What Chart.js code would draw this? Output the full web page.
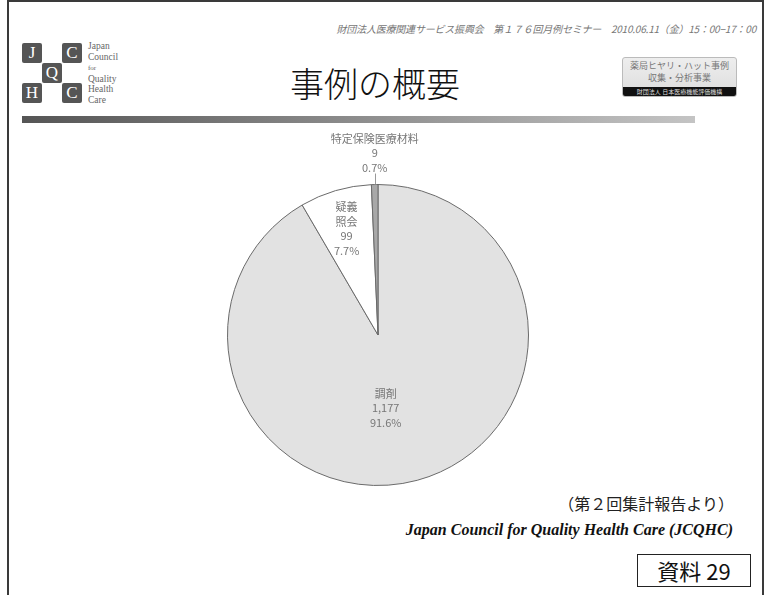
<!DOCTYPE html>
<html lang="ja">
<head>
<meta charset="utf-8">
<script src="https://cdn.jsdelivr.net/npm/chart.js@4"></script>
<style>
  body { margin: 0; width: 766px; height: 595px; background: #fff; overflow: hidden; position: relative;
         font-family: "Noto Sans CJK JP", "Noto Sans", sans-serif; }
  .frame { position: absolute; left: 7px; top: 0; width: 753px; height: 620px; border: 2px solid #3a3a3a; border-bottom: none; }
  .seminar { position: absolute; right: 10px; top: 21px; font-size: 10px; font-style: italic; color: #777; white-space: nowrap; letter-spacing: -0.2px; }
  .box { position: absolute; width: 20px; height: 20px; background: #555; color: #fff; border-radius: 2px;
         font-family: "Liberation Serif", serif; font-size: 17px; line-height: 20px; text-align: center; }
  .logotext { position: absolute; left: 88px; top: 41px; font-family: "Liberation Serif", serif; font-size: 9.5px; line-height: 10.5px; color: #666; }
  .title { position: absolute; left: 0; width: 750px; top: 58px; text-align: center; font-size: 34px; font-weight: 300; color: #111; }
  .badge { position: absolute; left: 622px; top: 57px; width: 113px; height: 38px; background: linear-gradient(#eee, #dcdcdc); border: 1px solid #bbb; border-radius: 3px; overflow: hidden; }
  .badge .l { font-size: 9px; line-height: 12px; text-align: center; color: #777; }
  .badge .strip { position: absolute; left: 0; bottom: 0; width: 100%; height: 9px; background: #111; color: #ddd; font-size: 6px; line-height: 9px; text-align: center; white-space: nowrap; }
  .bar { position: absolute; left: 22px; top: 116px; width: 673px; height: 7px; background: linear-gradient(to right, #555, #c4c4c4); }
  #chartWrap { position: absolute; left: 178px; top: 130px; width: 400px; height: 360px; }
  .source { position: absolute; right: 32px; top: 491px; font-size: 16px; color: #222; }
  .org { position: absolute; right: 33px; top: 521px; font-family: "Liberation Serif", serif; font-weight: bold; font-style: italic; font-size: 16px; color: #111; }
  .doc { position: absolute; left: 637px; top: 554px; width: 112px; height: 31px; border: 1px solid #222; font-size: 22px; line-height: 31px; text-align: center; color: #111; }
</style>
</head>
<body>
<div class="frame"></div>
<div class="seminar">財団法人医療関連サービス振興会　第１７６回月例セミナー　2010.06.11（金）15：00−17：00</div>

<div class="box" style="left:22px;top:43px">J</div>
<div class="box" style="left:62px;top:43px">C</div>
<div class="box" style="left:42px;top:63px">Q</div>
<div class="box" style="left:22px;top:83px">H</div>
<div class="box" style="left:62px;top:83px">C</div>
<div class="logotext">Japan<br>Council<br><span style="font-size:7px">for</span><br>Quality<br>Health<br>Care</div>

<div class="title">事例の概要</div>
<div class="badge">
  <div class="l" style="margin-top:2px">薬局ヒヤリ・ハット事例</div>
  <div class="l">収集・分析事業</div>
  <div class="strip">財団法人 日本医療機能評価機構</div>
</div>
<div class="bar"></div>

<div id="chartWrap"><canvas id="pieChart" width="400" height="360"></canvas></div>

<div class="source">（第２回集計報告より）</div>
<div class="org">Japan Council for Quality Health Care (JCQHC)</div>
<div class="doc">資料 29</div>

<script>
// data
const categories = ['調剤', '疑義照会', '特定保険医療材料'];
const labelLines = [['調剤'], ['疑義', '照会'], ['特定保険医療材料']];
const counts = [1177, 99, 9];
const sliceColors = ['#e2e2e2', '#ffffff', '#a8a8a8'];

const total = counts.reduce((a, b) => a + b, 0);

// draws the category / count / percent text for each slice
const sliceLabels = {
    id: 'sliceLabels',
    afterDatasetsDraw(chart) {
        const ctx = chart.ctx;
        const arcs = chart.getDatasetMeta(0).data;
        ctx.save();
        ctx.fillStyle = '#777';
        ctx.font = '11px "Noto Sans CJK JP", sans-serif';
        ctx.textAlign = 'center';
        ctx.textBaseline = 'middle';
        arcs.forEach(function (arc, i) {
            const lines = labelLines[i].concat([
                counts[i].toLocaleString('en-US'),
                (counts[i] / total * 100).toFixed(1) + '%'
            ]);
            const mid = (arc.startAngle + arc.endAngle) / 2;
            const pct = counts[i] / total;
            let x, y;
            if (pct < 0.02) {
                // small slice: label outside with a leader line
                const ex = arc.x + Math.cos(mid) * arc.outerRadius;
                const ey = arc.y + Math.sin(mid) * arc.outerRadius;
                ctx.strokeStyle = '#999';
                ctx.lineWidth = 1;
                ctx.beginPath();
                ctx.moveTo(Math.round(ex) + 0.5, ey);
                ctx.lineTo(Math.round(ex) + 0.5, ey - 11);
                ctx.stroke();
                x = ex;
                y = ey - 18 - (lines.length - 1) * 14;
            } else {
                const f = pct > 0.5 ? 0.5 : 0.74;
                x = arc.x + Math.cos(mid) * arc.outerRadius * f;
                y = arc.y + Math.sin(mid) * arc.outerRadius * f - (lines.length - 1) * 7;
                if (pct > 0.5) x -= 12;
            }
            lines.forEach(function (t, k) {
                ctx.fillText(t, x, y + k * 14.5);
            });
        });
        ctx.restore();
    }
};

const ctx = document.getElementById('pieChart').getContext('2d');
const pieChart = new Chart(ctx, {
    type: 'pie',
    data: {
        labels: categories,
        datasets: [{
            data: counts,
            backgroundColor: sliceColors,
            borderColor: '#6a6a6a',
            borderWidth: 1
        }]
    },
    options: {
        responsive: false,
        animation: false,
        layout: { padding: { top: 54, bottom: 4, left: 49, right: 49 } },
        plugins: {
            legend: { display: false },
            tooltip: { enabled: false }
        }
    },
    plugins: [sliceLabels]
});
</script>
</body>
</html>
